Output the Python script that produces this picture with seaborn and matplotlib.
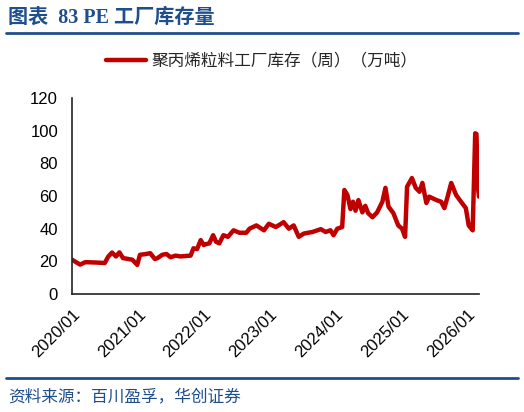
import pandas as pd
import seaborn as sns
import matplotlib.pyplot as plt
import matplotlib.dates as mdates
from matplotlib.lines import Line2D

sns.set_style('white')
plt.rcParams['font.family'] = ['Liberation Sans', 'Noto Sans CJK SC', 'DejaVu Sans']

# weekly inventory, sampled from the chart (10k tonnes)
dates = ['2020-01-01', '2020-02-15', '2020-03-15', '2020-05-07', '2020-07-01', '2020-07-20',
         '2020-08-10', '2020-09-01', '2020-09-20', '2020-10-10', '2020-12-01', '2020-12-28',
         '2021-01-12', '2021-02-15', '2021-03-10', '2021-04-05', '2021-04-20', '2021-05-15',
         '2021-06-08', '2021-07-01', '2021-07-28', '2021-08-25', '2021-09-25', '2021-10-20',
         '2021-11-05', '2021-11-25', '2021-12-15', '2022-01-01', '2022-01-12', '2022-02-01',
         '2022-02-22', '2022-03-10', '2022-03-28', '2022-04-20', '2022-05-15', '2022-06-15',
         '2022-07-18', '2022-08-25', '2022-09-12', '2022-10-20', '2022-12-01', '2022-12-28',
         '2023-02-05', '2023-03-20', '2023-04-18', '2023-05-15', '2023-06-12', '2023-07-10',
         '2023-08-28', '2023-10-12', '2023-11-08', '2023-12-05', '2023-12-22', '2024-01-12',
         '2024-02-08', '2024-02-20', '2024-03-08', '2024-03-25', '2024-04-08', '2024-04-22',
         '2024-05-08', '2024-05-30', '2024-06-15', '2024-07-01', '2024-07-25', '2024-08-20',
         '2024-09-18', '2024-10-05', '2024-10-22', '2024-11-18', '2024-12-15', '2025-01-05',
         '2025-01-22', '2025-02-02', '2025-03-01', '2025-03-22', '2025-04-12', '2025-04-28',
         '2025-05-20', '2025-06-05', '2025-07-15', '2025-08-10', '2025-08-28', '2025-09-15',
         '2025-10-05', '2025-11-01', '2025-11-28', '2025-12-25', '2026-01-10', '2026-02-01',
         '2026-02-15', '2026-02-22', '2026-03-02', '2026-03-08']
inventory = [21, 18, 19.5, 19.3, 19, 22.9,
             25.4, 23, 25.5, 22, 21, 17.8,
             24, 24.5, 25, 21.4, 22, 24,
             24.5, 22.5, 23.5, 23, 23.3, 23.5,
             28, 27.5, 33, 30, 30.5, 31,
             36, 32, 31, 36, 35, 39,
             37.5, 37.5, 40, 42, 39, 43,
             41, 44, 40, 42, 35, 37,
             38, 39.7, 38, 39, 36, 40,
             41, 63.7, 60.6, 52, 56.5, 51,
             57.5, 50, 54, 49.5, 47, 50,
             56.5, 65, 53.5, 49.5, 42, 40,
             35, 65.7, 71, 65, 62.6, 68,
             55.7, 59.6, 57.5, 56.5, 52.6, 59.6,
             68, 60.6, 56.5, 52.6, 42, 39,
             98.4, 98, 65.7, 59.6]

df = pd.DataFrame({'date': pd.to_datetime(dates), 'value': inventory})

red = '#C00000'
navy = '#1F4E8C'

fig = plt.figure(figsize=(5.24, 4.12), dpi=100)
ax = fig.add_axes([0.1374, 0.2864, 0.7767, 0.4757])
sns.lineplot(data=df, x='date', y='value', ax=ax, color=red, linewidth=3.2)

ax.set_ylim(0, 120)
ax.set_yticks(range(0, 121, 20))
ax.set_xlim(pd.Timestamp('2020-01-01'), pd.Timestamp('2026-03-08'))
ax.set_xticks(pd.to_datetime(['%d-01-01' % y for y in range(2020, 2027)]))
ax.xaxis.set_major_formatter(mdates.DateFormatter('%Y/%m'))
ax.set_xlabel('')
ax.set_ylabel('')
for s in ['top', 'right']:
    ax.spines[s].set_visible(False)
for s in ['left', 'bottom']:
    ax.spines[s].set_color('#222222')
    ax.spines[s].set_linewidth(1.2)
ax.tick_params(axis='both', direction='in', length=4, width=1.1, color='#222222',
               labelsize=12, labelcolor='black')
ax.tick_params(axis='y', pad=10)
ax.tick_params(axis='x', pad=9)
plt.setp(ax.get_xticklabels(), rotation=45, ha='right', rotation_mode='anchor')

handle = Line2D([], [], color=red, linewidth=3.2)
fig.legend([handle], ['聚丙烯粒料工厂库存（周）（万吨）'], loc='center',
           bbox_to_anchor=(0.5, 0.852), frameon=False, handlelength=2.4,
           handletextpad=0.3, prop={'family': ['Noto Sans CJK SC'], 'size': 12})

fig.text(0.015, 0.958, '图表  83 PE 工厂库存量', ha='left', va='center',
         family=['Liberation Serif', 'Noto Sans CJK SC'], weight='bold',
         fontsize=14.5, color=navy)
fig.add_artist(Line2D([0.011, 0.989], [0.920, 0.920], color=navy, linewidth=2))
fig.add_artist(Line2D([0.011, 0.989], [0.083, 0.083], color=navy, linewidth=2))
fig.text(0.015, 0.036, '资料来源：百川盈孚，华创证券', ha='left', va='center',
         family=['Noto Sans CJK SC'], fontsize=12, color=navy)

fig.savefig('out.png', dpi=100)
